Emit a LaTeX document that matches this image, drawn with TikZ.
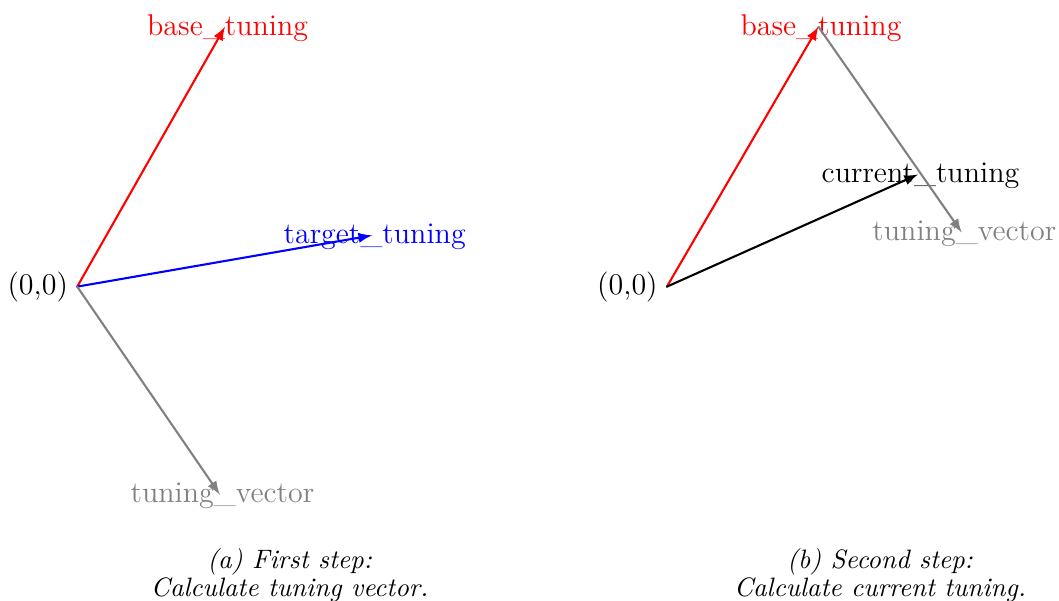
\documentclass[tikz,border=0pt]{standalone}
\begin{document}
\begin{tikzpicture}[>=latex, font=\fontsize{11.5}{14}\selectfont, line join=round, line cap=round,
	vec/.style={->,thick},
	lbl/.style={xshift=1pt,yshift=-0.6pt},
	captext/.style={align=center,font=\fontsize{10.2}{10.8}\selectfont\itshape}]
	\useasboundingbox (0,0) rectangle (14.26,8.09);
	% (a) First step
	\coordinate (O1) at (1.04,4.23);
	\coordinate (B1) at (3.03,7.73);
	\coordinate (T1) at (5.01,4.92);
	\coordinate (V1) at (2.96,1.43);
	\node[left] (orig1) at (O1) {(0,0)};
	\node[lbl,red] (base1) at (B1) {base\_tuning};
	\node[lbl,blue] (target1) at (T1) {target\_tuning};
	\node[lbl,gray] (vector1) at (V1) {tuning\_vector};
	\draw[vec,red] (O1)--(B1);
	\draw[vec,blue] (O1)--(T1);
	\draw[vec,gray] (O1)--(V1);
	\node[captext] (capa) at (3.9,0.34) {(a) First step:\\Calculate tuning vector.};
	% (b) Second step
	\coordinate (O2) at (8.98,4.23);
	\coordinate (B2) at (11.02,7.73);
	\coordinate (C2) at (12.36,5.74);
	\coordinate (V2) at (12.95,4.96);
	\node[left] (orig2) at (O2) {(0,0)};
	\node[lbl,red] (base2) at (B2) {base\_tuning};
	\node[lbl] (current2) at (C2) {current\_tuning};
	\node[lbl,gray] (vector2) at (V2) {tuning\_vector};
	\draw[vec,red] (O2)--(B2);
	\draw[vec,gray] (B2)--(V2);
	\draw[vec] (O2)--(C2);
	\node[captext] (capb) at (11.85,0.34) {(b) Second step:\\Calculate current tuning.};
\end{tikzpicture}
\end{document}
